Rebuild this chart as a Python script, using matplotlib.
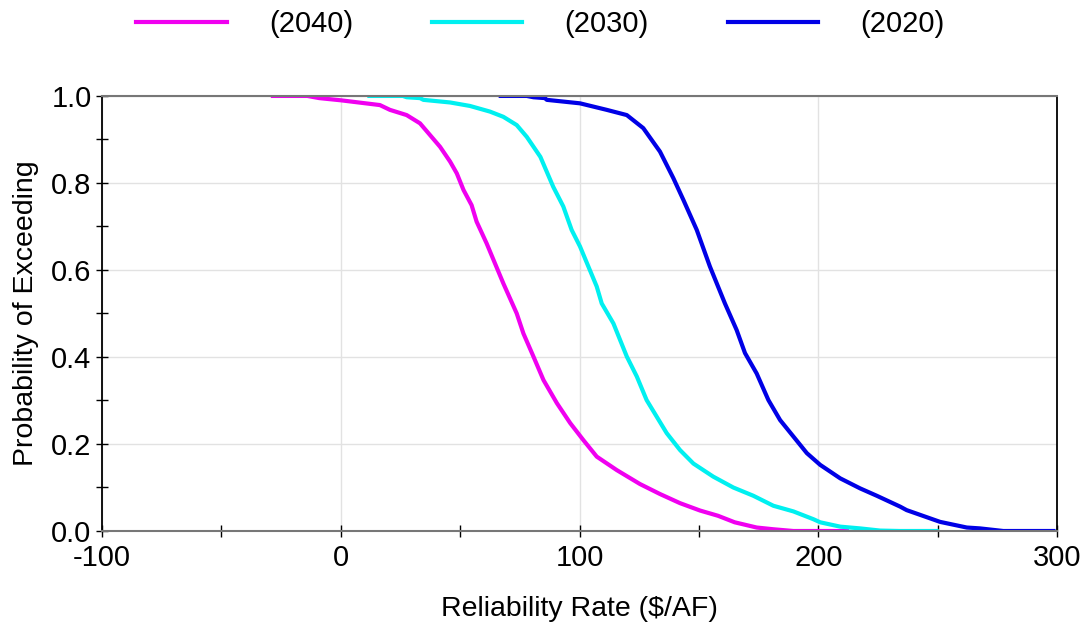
import matplotlib
matplotlib.use("Agg")
import matplotlib.pyplot as plt
from matplotlib.ticker import MultipleLocator

plt.rcParams['font.family'] = ['Liberation Sans', 'DejaVu Sans']

labels = ["(2040)", "(2030)", "(2020)"]
colors = ["#F000F0", "#00F0F0", "#0000E6"]

rate_2040 = [-28.4, -14, -9, 0, 16.4, 20.6, 27.6, 33.2, 37.4, 41.6, 45.8, 48.6, 51.4,
             54.8, 56.9, 61.1, 64.6, 68.1, 73.7, 76.5, 80.7, 84.9, 90.5, 96.1, 101.6,
             107.2, 115.6, 125.3, 133.7, 142.1, 150.5, 158.0, 165.0, 174.2, 181.2, 189.6, 212.0]
prob_2040 = [1.0, 1.0, 0.995, 0.99, 0.979, 0.968, 0.956, 0.937, 0.910, 0.883, 0.849, 0.822,
             0.784, 0.749, 0.711, 0.661, 0.615, 0.569, 0.500, 0.454, 0.401, 0.347, 0.294,
             0.248, 0.209, 0.171, 0.140, 0.108, 0.085, 0.064, 0.047, 0.035, 0.020, 0.008,
             0.004, 0.0, 0.0]

rate_2030 = [12.0, 26.0, 27.6, 33.2, 34.6, 45.8, 54.1, 62.5, 68.1, 73.7, 77.9, 83.6, 89.0,
             93.2, 96.7, 100.2, 103.7, 107.2, 109.3, 114.2, 119.8, 124.0, 128.1, 132.3,
             136.5, 142.1, 147.7, 156.0, 164.4, 172.8, 181.2, 189.6, 198.0, 200.8, 209.2,
             217.5, 225.9, 234.2, 249.6]
prob_2030 = [1.0, 1.0, 0.997, 0.995, 0.991, 0.985, 0.977, 0.964, 0.952, 0.933, 0.906, 0.860,
             0.791, 0.746, 0.692, 0.654, 0.608, 0.562, 0.523, 0.477, 0.401, 0.355, 0.301,
             0.263, 0.225, 0.186, 0.155, 0.125, 0.100, 0.081, 0.058, 0.045, 0.027, 0.020,
             0.010, 0.006, 0.001, 0.0, 0.0]

rate_2020 = [67.0, 77.9, 80.7, 85.5, 86.3, 100.2, 111.4, 119.8, 126.7, 133.7, 139.3, 143.5,
             149.1, 154.6, 160.9, 165.8, 169.3, 174.2, 179.1, 184.0, 189.6, 195.2, 200.8,
             209.2, 217.5, 224.5, 234.3, 237.0, 251.0, 262.2, 267.7, 277.5, 298.5]
prob_2020 = [1.0, 1.0, 0.997, 0.995, 0.991, 0.983, 0.968, 0.956, 0.926, 0.872, 0.811, 0.761,
             0.692, 0.608, 0.523, 0.462, 0.409, 0.362, 0.301, 0.255, 0.217, 0.179, 0.152,
             0.121, 0.098, 0.081, 0.056, 0.048, 0.021, 0.008, 0.006, 0.0, 0.0]

x_ticks = [-100, 0, 100, 200, 300]
y_ticks = [0.0, 0.2, 0.4, 0.6, 0.8, 1.0]

fig = plt.figure(figsize=(10.92, 6.32), dpi=100)
ax = fig.add_axes([0.0934, 0.1598, 0.8746, 0.6884])

series = [(rate_2040, prob_2040), (rate_2030, prob_2030), (rate_2020, prob_2020)]
for (xs, ys), c, lab in zip(series, colors, labels):
    ax.plot(xs, ys, color=c, lw=3.0, label=lab, solid_joinstyle='round')

ax.set_xlim(-100, 300)
ax.set_ylim(0, 1.0)
ax.set_xticks(x_ticks)
ax.set_xticklabels([str(v) for v in x_ticks])
ax.set_yticks(y_ticks)
ax.set_yticklabels([f"{v:.1f}" for v in y_ticks])
ax.xaxis.set_minor_locator(MultipleLocator(50))
ax.yaxis.set_minor_locator(MultipleLocator(0.1))
ax.tick_params(axis='both', which='both', direction='inout', length=9, width=1.0,
               color='black', labelsize=21)
ax.tick_params(axis='x', which='major', pad=5)
ax.tick_params(axis='y', which='major', pad=3)

ax.grid(True, which='major', color='#E2E2E2', lw=1.0)
ax.set_axisbelow(True)

for s in ['top', 'bottom']:
    ax.spines[s].set_color('#777777')
    ax.spines[s].set_linewidth(1.5)
for s in ['left', 'right']:
    ax.spines[s].set_color('black')
    ax.spines[s].set_linewidth(1.3)

ax.set_xlabel("Reliability Rate ($/AF)", fontsize=20.5, labelpad=17)
ax.set_ylabel("Probability of Exceeding", fontsize=20.5, labelpad=9)

fig.legend(loc='center', bbox_to_anchor=(0.495, 0.962), ncol=3, frameon=False,
           fontsize=21, handlelength=3.1, handletextpad=1.45, columnspacing=2.7)

fig.savefig("out.png", dpi=100)
